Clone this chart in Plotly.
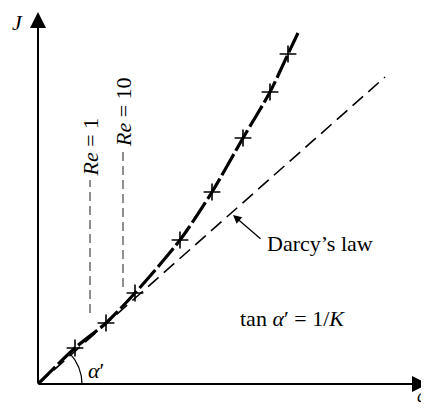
import numpy as np
import plotly.graph_objects as go

# -------------------------------
# 1. Data (arbitrary units)
# -------------------------------
cross_q = [3.7, 6.8, 9.7, 14.2, 17.4, 20.5, 23.2, 25.0]
cross_J = [3.6, 6.1, 9.1, 14.4, 19.2, 24.6, 29.2, 33.0]
curve_q = [0.0] + cross_q + [26.0]
curve_J = [0.0] + cross_J + [35.1]

darcy_q = [0.0, 34.7]
darcy_J = [0.0, 30.7]

re1_q = [5.2, 5.2]
re1_J = [7.1, 20.4]
re10_q = [8.5, 8.5]
re10_J = [9.7, 23.4]

SERIF = "Liberation Serif, Times New Roman, serif"

fig = go.Figure()

# Darcy's law (thin dashed)
fig.add_trace(go.Scatter(x=darcy_q, y=darcy_J, mode="lines",
                         line=dict(color="black", width=1.6, dash="14px,7px")))

# Re markers (vertical dashed)
for xq, yj in [(re1_q, re1_J), (re10_q, re10_J)]:
    fig.add_trace(go.Scatter(x=xq, y=yj, mode="lines",
                             line=dict(color="#333", width=1.1, dash="9px,5px")))

# measured curve
fig.add_trace(go.Scatter(x=curve_q, y=curve_J, mode="lines",
                         line=dict(color="black", width=3.2, dash="24px,4px",
                                   shape="spline", smoothing=0.8)))
fig.add_trace(go.Scatter(x=cross_q, y=cross_J, mode="markers",
                         marker=dict(symbol="cross-thin", size=12,
                                     line=dict(color="black", width=1.6))))

# angle arc alpha'
ang = np.linspace(0, np.arctan2(darcy_J[1], darcy_q[1]), 30)
fig.add_trace(go.Scatter(x=4.4 * np.cos(ang), y=4.4 * np.sin(ang), mode="lines",
                         line=dict(color="black", width=1.2)))

# axes with arrows
axis_style = dict(xref="x", yref="y", axref="x", ayref="y", text="",
                  showarrow=True, arrowhead=2, arrowsize=1.6, arrowwidth=2,
                  arrowcolor="black")
fig.add_annotation(x=0, y=37.2, ax=0, ay=0, **axis_style)
fig.add_annotation(x=39.0, y=0, ax=0, ay=0, **axis_style)

# Darcy's law pointer
fig.add_annotation(x=19.5, y=16.9, ax=29, ay=25, text="", showarrow=True,
                   arrowhead=2, arrowsize=1.3, arrowwidth=1.3, arrowcolor="black")

txt = dict(showarrow=False, font=dict(family=SERIF, size=22, color="black"))
fig.add_annotation(x=22.7, y=14.1, text="Darcy’s law", xanchor="left", **txt)
fig.add_annotation(x=20.0, y=6.6, text="tan <i>α</i>′ = 1/<i>K</i>", xanchor="left", **txt)
fig.add_annotation(x=4.8, y=1.4, text="<i>α</i>′", xanchor="left", **txt)
fig.add_annotation(x=5.2, y=20.5, text="<i>Re</i> = 1", textangle=-90,
                   yanchor="bottom", **txt)
fig.add_annotation(x=8.5, y=23.5, text="<i>Re</i> = 10", textangle=-90,
                   yanchor="bottom", **txt)
fig.add_annotation(x=-2.1, y=36.2, text="<i>J</i>", **txt)
fig.add_annotation(x=39.0, y=-2.4, text="<i>q</i>", xanchor="right",
                   yanchor="bottom", showarrow=False,
                   font=dict(family=SERIF, size=18, color="black"))

# page body adds ~8px offset, so the figure is 421x400 and ranges are shifted
fig.update_layout(
    width=421, height=400,
    margin=dict(l=0, r=0, t=0, b=0),
    plot_bgcolor="white", paper_bgcolor="white",
    showlegend=False,
    xaxis=dict(range=[-3.0, 39.1], visible=False, fixedrange=True),
    yaxis=dict(range=[-2.4, 37.6], visible=False, fixedrange=True),
)

fig.write_html("out.html")
